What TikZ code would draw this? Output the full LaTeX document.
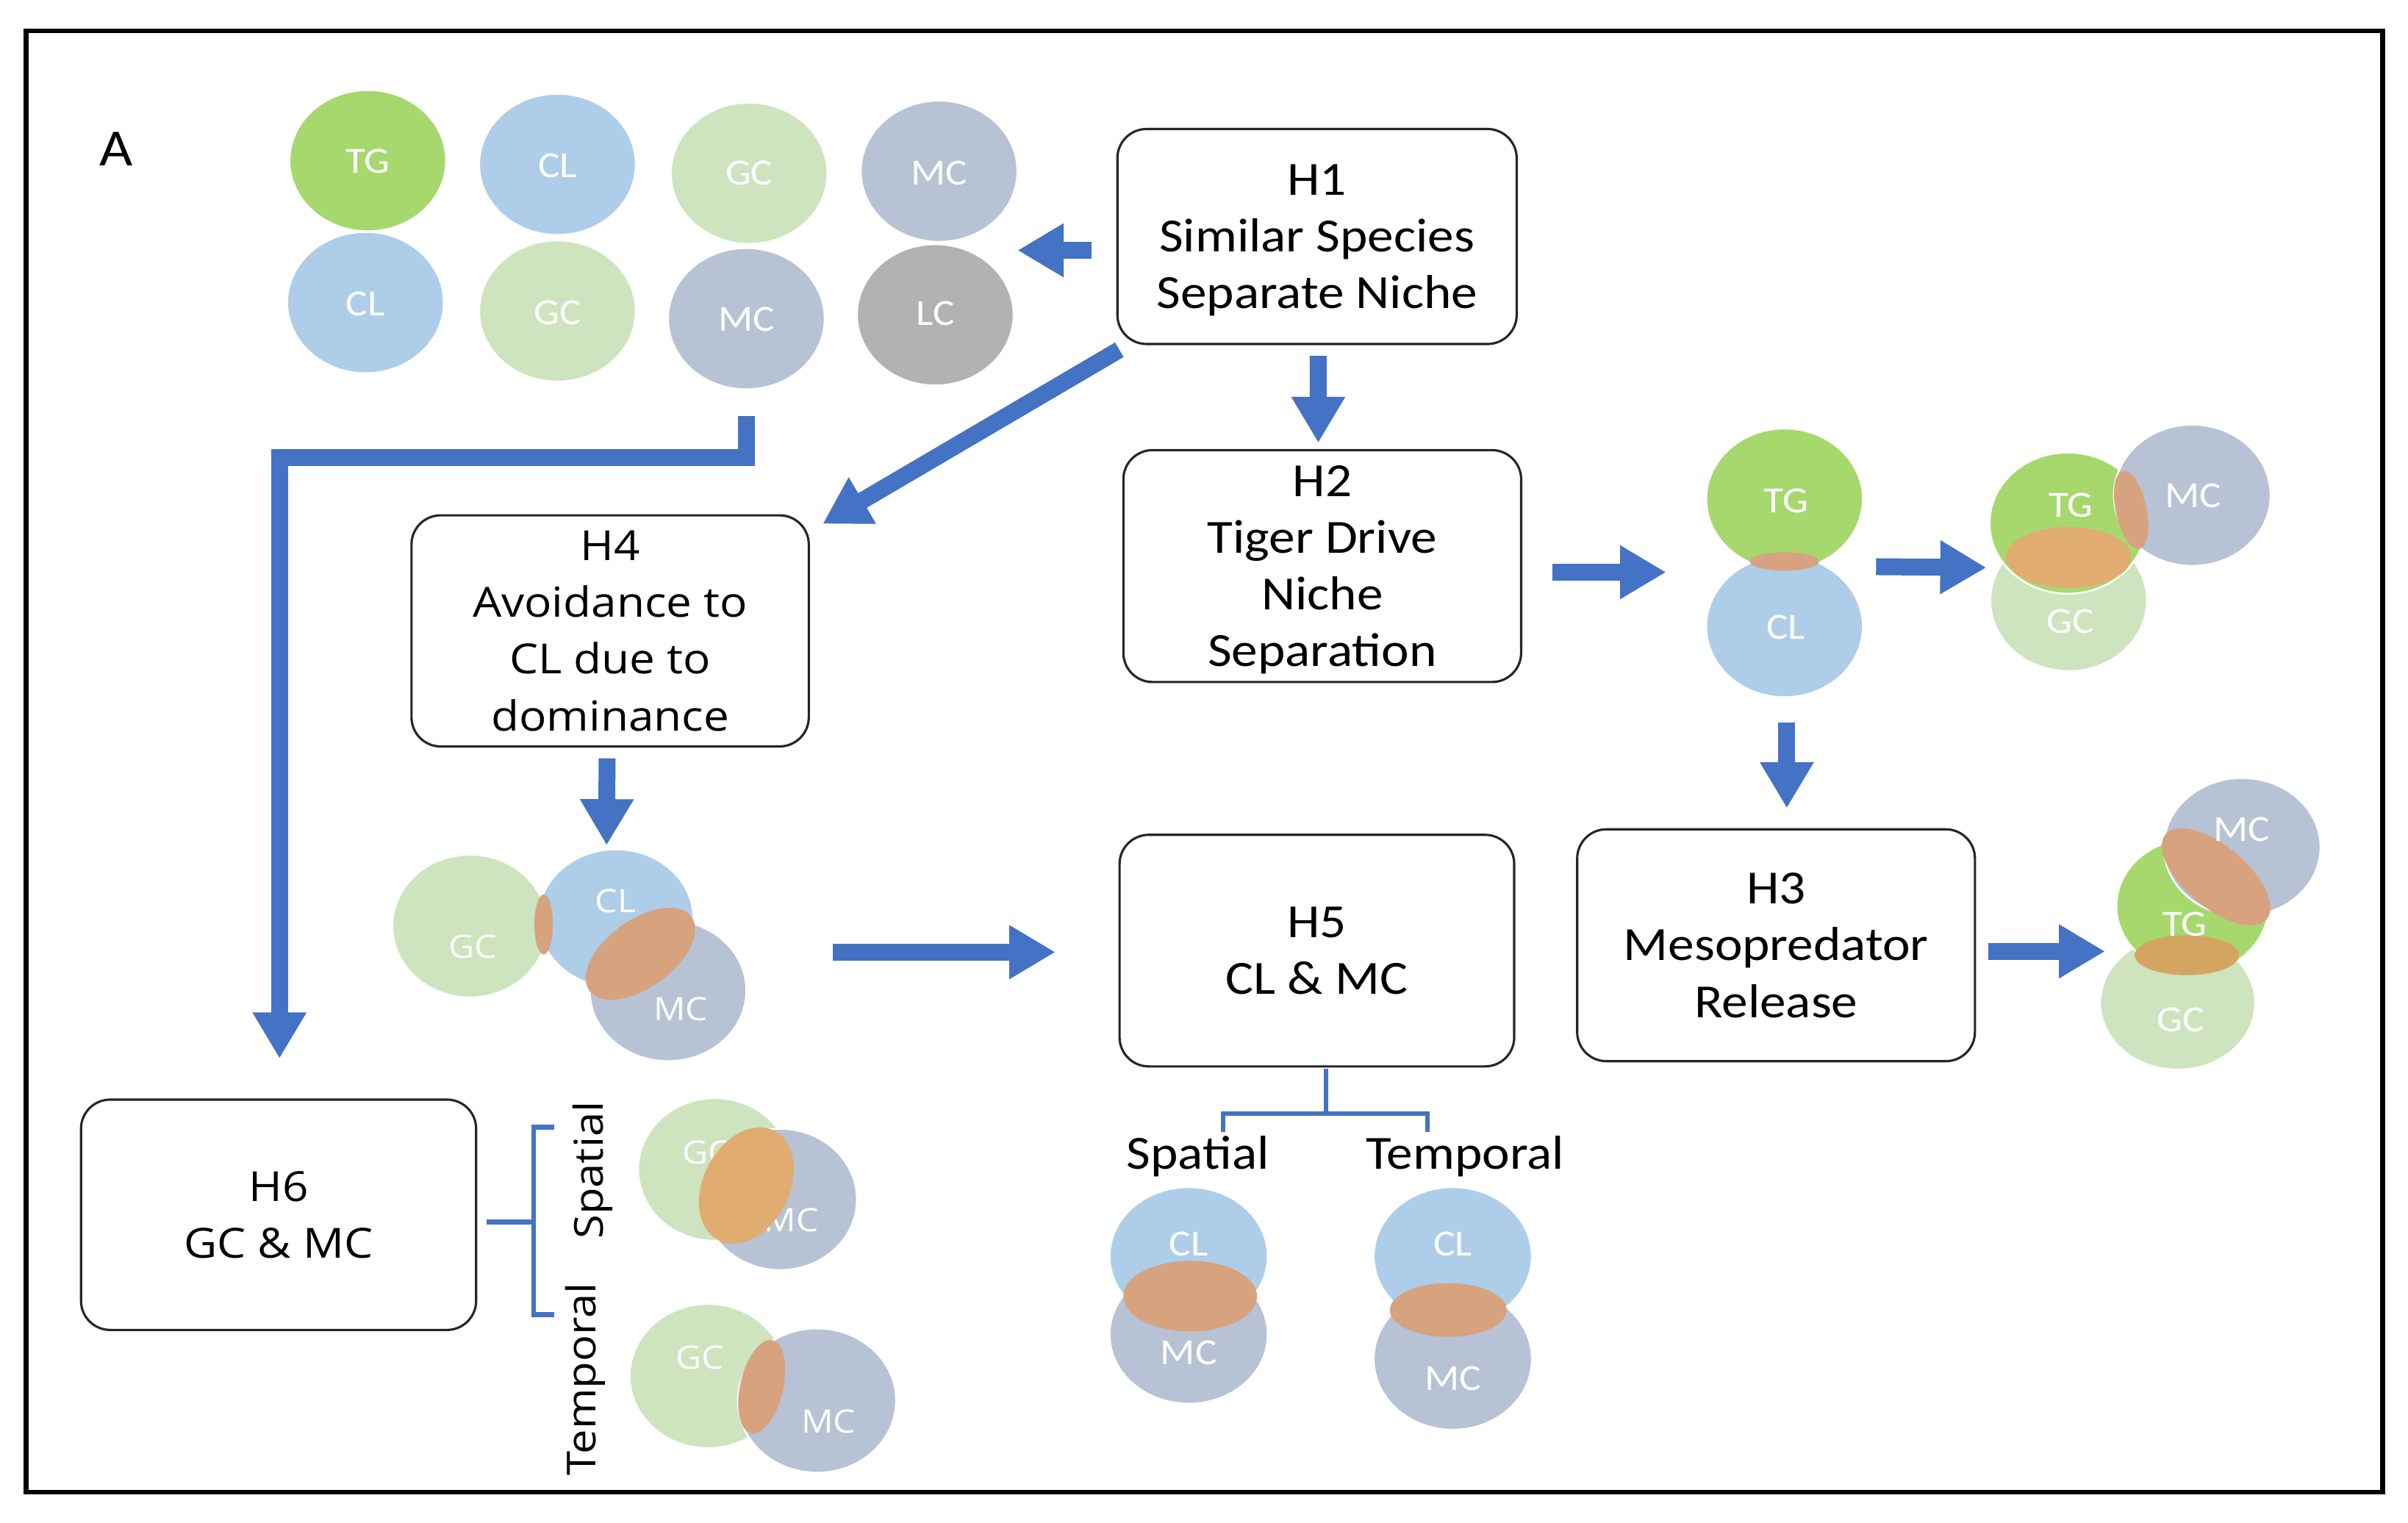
\documentclass[tikz,border=0pt]{standalone}
\usepackage{fontspec}
\setmainfont{Carlito}[FakeStretch=1.1]
\newfontfamily\osans{Open Sans}[FakeStretch=1.1]
\usetikzlibrary{arrows.meta,shapes.geometric,calc}
\definecolor{tgc}{HTML}{A6D86E}
\definecolor{clc}{HTML}{AECDE9}
\definecolor{gcc}{HTML}{CDE4BF}
\definecolor{mcc}{HTML}{B7C2D4}
\definecolor{lcc}{HTML}{B2B2B2}
\definecolor{ovc}{HTML}{D7A27E}
\definecolor{ovo}{HTML}{E0AC6F}
\definecolor{ovm}{HTML}{D4A560}
\definecolor{arr}{HTML}{4472C4}
\newcommand\tstrut{\rule{0pt}{25pt}}
\begin{document}
\begin{tikzpicture}[x=1pt,y=-1pt,
  hbox/.style={draw=black!85,line width=1.5pt,rounded corners=19pt,fill=white,align=center,inner sep=0pt},
  cfont/.style={font=\fontsize{31}{37}\selectfont},
  ofont/.style={font=\osans\fontsize{27}{37}\selectfont},
  blob/.style={ellipse,inner sep=0pt,minimum width=102pt,minimum height=92pt,draw=white,line width=1.2pt},
  ctext/.style={text=white,font=\fontsize{24}{26}\selectfont,inner sep=0pt},
  otext/.style={text=white,font=\osans\fontsize{21}{23}\selectfont,inner sep=0pt},
  barrow/.style={draw=arr,line width=11pt,-{Triangle[width=33pt,length=30pt]}},
  brk/.style={draw=arr,line width=3.2pt},
]
\useasboundingbox (0,0) rectangle (1568,991.7);
\fill[white] (0,0) rectangle (1568,991.7);
\draw[line width=3pt] (17,20) rectangle (1551.5,971.5);

\node[font=\fontsize{34}{36}\selectfont] (lblA) at (75.5,97) {A};

% ---------- top-left circles
\node[blob,fill=tgc] (tg1) at (239.5,104.6) {};
\node[blob,fill=clc] (cl1) at (363,107) {};
\node[blob,fill=gcc] (gc1) at (487.8,112.8) {};
\node[blob,fill=mcc] (mc1) at (611.5,111.5) {};
\node[blob,fill=clc] (cl2) at (238,197) {};
\node[blob,fill=gcc] (gc2) at (363,202.5) {};
\node[blob,fill=mcc] (mc2) at (486,207.5) {};
\node[blob,fill=lcc] (lc2) at (609,205) {};
\node[ctext] (tg1t) at (239.5,105) {TG};
\node[ctext] (cl1t) at (363,107.7) {CL};
\node[ctext] (gc1t) at (487.8,112.8) {GC};
\node[ctext] (mc1t) at (611.5,112.8) {MC};
\node[ctext] (cl2t) at (238,198) {CL};
\node[ctext] (gc2t) at (363,203.5) {GC};
\node[ctext] (mc2t) at (486,207.7) {MC};
\node[ctext] (lc2t) at (609,204) {LC};

% ---------- boxes
\node[hbox,cfont,minimum width=260pt,minimum height=140pt] (h1) at (857.6,154) {\tstrut H1\\Similar Species\\Separate Niche};
\node[hbox,cfont,minimum width=259pt,minimum height=151pt] (h2) at (861,368.6) {\tstrut H2\\Tiger Drive\\Niche\\Separation};
\node[hbox,ofont,minimum width=258.7pt,minimum height=150.5pt] (h4) at (397.3,410.8) {H4\\Avoidance to\\CL due to\\dominance};
\node[hbox,cfont,minimum width=257pt,minimum height=150.8pt] (h5) at (857.5,619) {H5\\CL \& MC};
\node[hbox,cfont,minimum width=259pt,minimum height=151pt] (h3) at (1156.5,615.5) {H3\\Mesopredator\\Release};
\node[hbox,ofont,minimum width=257.3pt,minimum height=150pt] (h6) at (181.4,791) {H6\\GC \& MC};

% ---------- H4 venn
\node[blob,fill=gcc,minimum width=101pt,minimum height=93pt] (v4gc) at (306,603) {};
\node[blob,fill=clc,minimum width=101pt,minimum height=90pt] (v4cl) at (401,598) {};
\node[blob,fill=mcc,minimum width=102pt,minimum height=92pt] (v4mc) at (435,645) {};
\fill[ovc] (354,602) ellipse [x radius=6pt, y radius=19.5pt];
\fill[ovc, rotate around={36:(417,621)}] (417,621) ellipse [x radius=41pt, y radius=22pt];
\node[otext] (v4gct) at (307.8,616.6) {GC};
\node[otext] (v4clt) at (400.8,586.6) {CL};
\node[otext] (v4mct) at (443.4,657.2) {MC};

% ---------- H5 venns
\node[blob,fill=clc,minimum width=103pt,minimum height=90pt] (s5cl) at (774,818) {};
\node[blob,fill=mcc,minimum width=103pt,minimum height=90pt] (s5mc) at (774,869) {};
\fill[ovc] (775,844) ellipse [x radius=43.5pt, y radius=23pt];
\node[ctext] (s5clt) at (774,810) {CL};
\node[ctext] (s5mct) at (774,881) {MC};
\node[blob,fill=clc,minimum width=103pt,minimum height=90pt] (t5cl) at (946,818) {};
\node[blob,fill=mcc,minimum width=103pt,minimum height=92pt] (t5mc) at (946,885) {};
\fill[ovc] (943,853) ellipse [x radius=38pt, y radius=17.5pt];
\node[ctext] (t5clt) at (946,810) {CL};
\node[ctext] (t5mct) at (946,897.6) {MC};
\node[cfont] (sp5) at (780,753) {Spatial};
\node[cfont] (tp5) at (954,753) {Temporal};

% ---------- TG / CL
\node[blob,fill=tgc] (tg3) at (1162,325) {};
\node[blob,fill=clc] (cl3) at (1162,408) {};
\fill[ovc] (1162,365.6) ellipse [x radius=22.6pt, y radius=6pt];
\node[ctext] (tg3t) at (1163,326) {TG};
\node[ctext] (cl3t) at (1163,408.5) {CL};

% ---------- TG / MC / GC
\node[blob,fill=gcc] (gc4) at (1347,391) {};
\node[blob,fill=tgc] (tg4) at (1346.5,340.6) {};
\node[blob,fill=mcc] (mc4) at (1427.5,322.5) {};
\fill[ovo] (1347,363) ellipse [x radius=40.8pt, y radius=19.8pt];
\fill[ovc, rotate around={12:(1387.7,332)}] (1387.7,332) ellipse [x radius=10pt, y radius=26pt];
\node[ctext] (tg4t) at (1348.5,329) {TG};
\node[ctext] (mc4t) at (1428,323) {MC};
\node[ctext] (gc4t) at (1348,404.5) {GC};

% ---------- final venn
\node[blob,fill=gcc,minimum width=101pt,minimum height=87pt] (gc5) at (1418,653) {};
\node[blob,fill=tgc,minimum width=99pt,minimum height=88pt] (tg5) at (1427.6,590) {};
\node[blob,fill=mcc,minimum width=102pt,minimum height=90pt] (mc5) at (1460,551.6) {};
\fill[ovc, rotate around={-40:(1443,571)}] (1443,571) ellipse [x radius=43pt, y radius=20pt];
\fill[ovm] (1424,622) ellipse [x radius=34pt, y radius=13pt];
\node[ctext] (mc5t) at (1459.6,540) {MC};
\node[ctext] (tg5t) at (1422.6,601.7) {TG};
\node[ctext] (gc5t) at (1420,664) {GC};

% ---------- H6 venns
\node[blob,fill=gcc,minimum width=100pt,minimum height=93pt] (s6gc) at (465.5,761.5) {};
\node[blob,fill=mcc,minimum width=100pt,minimum height=92pt] (s6mc) at (508,781) {};
\node[otext] (s6gct) at (460,750.4) {GC};
\node[otext] (s6mct) at (515.4,794.3) {MC};
\fill[ovo, rotate around={63:(486,772)}] (486,772) ellipse [x radius=40pt, y radius=28pt];
\node[blob,fill=gcc,minimum width=102pt,minimum height=94pt] (t6gc) at (461,896) {};
\node[blob,fill=mcc,minimum width=103pt,minimum height=94pt] (t6mc) at (532,912) {};
\fill[ovc, rotate around={-13:(496,903)}] (496,903) ellipse [x radius=14pt, y radius=31pt];
\node[otext] (t6gct) at (455.8,884) {GC};
\node[otext] (t6mct) at (539.6,925.8) {MC};
\node[rotate=90,font=\osans\fontsize{26}{28}\selectfont] (sp6) at (386,762) {Spatial};
\node[rotate=90,font=\osans\fontsize{26}{28}\selectfont] (tp6) at (381,898) {Temporal};

% ---------- arrows
\draw[barrow] ($(h1.west)+(-16,9)$) -- ($(lc2.east)+(2,-42)$);
\draw[barrow] ($(h1.south)+(0.8,7)$) -- ($(h2.north)+(-2.6,-4)$);
\draw[barrow] ($(h1.south west)+(2,3)$) -- ($(h4.north east)+(8.3,6.3)$);
\draw[barrow] ($(mc2.south)+(0,17)$) -- ++(0,27) -| ($(h6.north)+(0.6,-26)$);
\draw[barrow] ($(h4.south)+(-2,7)$) -- ($(v4cl.north)+(-6,-2)$);
\draw[barrow] ($(h5.west)+(-186,1)$) -- ($(h5.west)+(-41,1)$);
\draw[barrow] ($(h2.east)+(19.5,4)$) -- ($(tg3.west |- h2.east)+(-25.5,4)$);
\draw[barrow] ($(tg3.east)+(8,44)$) -- ($(tg4.west)+(-1.5,29)$);
\draw[barrow] ($(cl3.south)+(1.5,16)$) -- ($(cl3.south |- h3.north)+(1.5,-13)$);
\draw[barrow] ($(h3.east)+(8,4)$) -- ($(h3.east)+(84,4)$);

% ---------- brackets
\draw[brk] ($(h5.south)+(6,1)$) -- ++(0,29);
\draw[brk] ($(h5.south)+(-61,42)$) -- ++(0,-12) -- ++(133,0) -- ++(0,12);
\draw[brk] ($(h6.east)+(6,4.6)$) -- ++(30.7,0);
\draw[brk] ($(h6.east)+(50,-57)$) -- ++(-13.3,0) -- ++(0,122) -- ++(13.3,0);
\end{tikzpicture}
\end{document}
